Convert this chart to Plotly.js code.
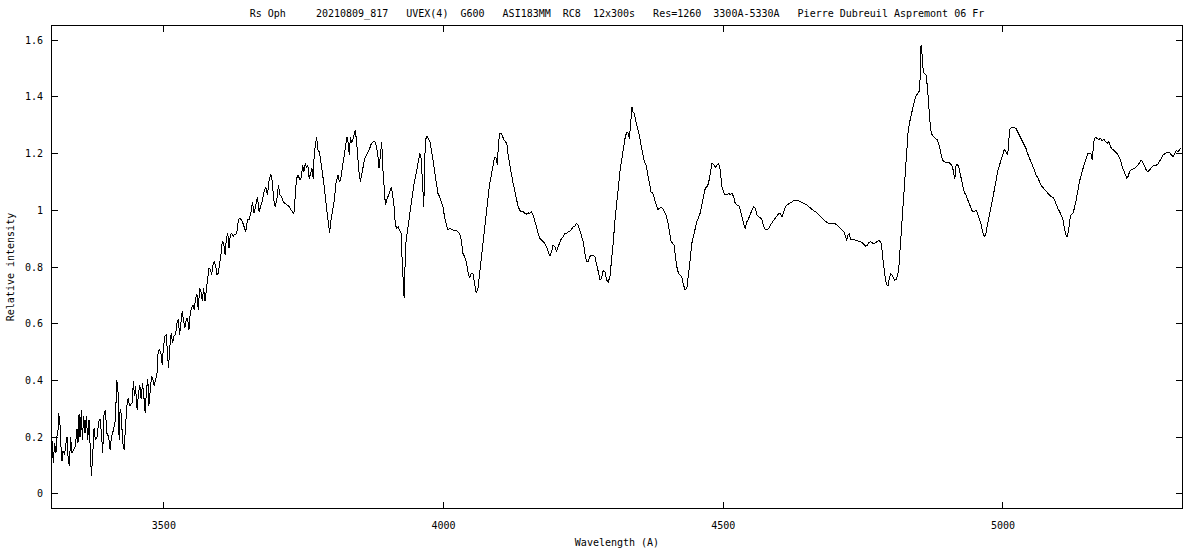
<!DOCTYPE html>
<html>
<head>
<meta charset="utf-8">
<script src="https://cdn.plot.ly/plotly-3.0.1.min.js"></script>
<style>html,body{margin:0;padding:0;background:#fff;}#chart{width:1200px;height:550px;}
#chart .scatterlayer path.js-line{shape-rendering:crispEdges;}</style>
</head>
<body>
<div id="chart"></div>
<script>
// ---- Chart text ----
const chartTitle = "Rs Oph     20210809_817   UVEX(4)  G600   ASI183MM  RC8  12x300s   Res=1260  3300A-5330A   Pierre Dubreuil Aspremont 06 Fr";
const xTitle = "Wavelength (A)";
const yTitle = "Relative intensity";
const xTickValues = [3500, 4000, 4500, 5000];
const yTickValues = [0, 0.2, 0.4, 0.6, 0.8, 1, 1.2, 1.4, 1.6];

// ---- Spectrum: wavelength (Angstrom) and relative intensity ----
const wavelength = [
3300.0,3302.3,3304.7,3307.1,3308.9,3310.6,3311.8,3314.2,3316.0,3317.8,3319.6,3322.6,3325.0,3326.8,3328.6,3331.0,3333.3,3335.7,3338.7,3341.7,
3344.7,3346.5,3348.3,3350.1,3352.5,3354.2,3356.6,3359.0,3361.4,3363.8,3366.2,3368.6,3370.4,3372.8,3375.2,3377.5,3380.5,3383.5,3385.9,3388.3,
3390.7,3393.1,3395.5,3397.8,3401.4,3403.8,3406.2,3408.6,3411.0,3413.4,3415.8,3418.2,3420.0,3421.7,3423.5,3426.5,3428.9,3431.3,3433.7,3436.1,
3438.5,3440.9,3443.2,3445.6,3447.4,3449.2,3452.2,3454.6,3457.0,3459.4,3461.8,3464.2,3466.5,3468.9,3471.3,3473.1,3475.5,3477.9,3480.3,3482.7,
3485.1,3487.4,3489.8,3492.2,3494.6,3497.0,3499.4,3501.8,3504.2,3506.6,3508.3,3510.7,3513.1,3515.5,3517.9,3520.9,3523.3,3525.7,3528.1,3530.4,
3532.8,3535.2,3537.6,3540.0,3542.4,3544.8,3547.2,3549.6,3552.0,3554.3,3556.7,3559.1,3561.5,3563.9,3566.3,3568.7,3571.1,3573.5,3575.8,3578.2,
3580.6,3583.0,3585.4,3587.8,3590.2,3592.6,3595.0,3597.4,3599.7,3602.1,3604.5,3606.9,3609.3,3611.7,3614.1,3616.5,3618.9,3621.2,3623.6,3626.0,
3628.4,3630.8,3633.2,
3636.4,3640.4,3646.3,3649.3,3652.3,3655.3,3658.3,3661.3,3664.3,3667.3,3670.2,3673.2,3676.2,3679.2,3682.2,3685.2,3688.2,3691.1,3694.1,3695.9,
3698.9,3701.9,3704.9,3707.3,3710.3,3713.2,3716.8,3721.0,3724.0,3727.0,3730.0,3732.4,3734.7,3737.1,3740.1,3743.1,3746.1,3747.9,3750.3,3752.7,
3755.1,3757.4,3759.8,3762.2,3764.6,3767.0,3768.2,3770.6,3773.0,3775.4,3777.8,3780.7,3783.7,3786.7,3789.1,3791.5,3793.9,3796.3,3798.7,3801.6,
3804.6,3807.6,3809.4,3811.2,3813.6,3816.0,3818.4,3820.8,3823.1,3825.5,3827.3,3829.1,3831.5,3833.3,3835.7,3838.1,3839.9,3842.3,3844.7,3846.4,
3848.8,3851.2,3853.6,3856.0,3859.0,3862.0,3865.0,3867.9,3870.9,3873.9,3876.9,3879.3,3882.3,3884.7,3887.1,3889.4,3891.2,3893.6,3896.0,3898.4,
3901.4,3904.4,3906.8,3909.2,3911.5,3913.9,3916.3,3918.7,3921.7,3924.1,3925.9,3927.7,3929.5,3930.7,3932.5,3934.8,3937.8,3940.8,3943.8,3946.8,
3949.8,3952.8,3955.1,3957.5,3959.9,3961.7,3963.5,3964.7,3965.9,3967.7,3970.1,3972.5,3975.5,3978.4,3980.8,3983.8,3986.8,3989.8,3992.8,3995.8,
3998.8,4001.7,4004.7,4007.7,
4010.7,4016.7,4022.6,4028.6,4031.6,4034.6,4037.6,4040.6,4043.6,4046.5,4049.5,4052.5,4055.5,4058.5,4061.5,4064.5,4067.4,4070.4,4073.4,4076.4,
4079.4,4082.4,4085.4,4088.3,4091.3,4094.3,4096.1,4097.9,4100.3,4102.7,4105.1,4108.1,4111.0,4113.4,4115.8,4118.2,4121.2,4124.2,4127.2,4130.2,
4133.1,4136.1,4139.1,4142.1,4145.1,4148.1,4151.1,4154.0,4157.0,4160.0,4163.0,4166.0,4169.0,4172.0,4175.0,4177.9,4180.9,4183.9,4186.9,4189.9,
4192.9,4195.9,4198.8,4201.8,4204.8,4207.8,4210.8,4213.8,4216.8,4219.8,4222.7,4225.7,4228.7,4231.7,4234.7,4237.7,4240.7,4243.6,4246.6,4249.6,
4252.6,4255.6,4258.6,4261.6,4264.6,4267.5,4270.5,4273.5,4276.5,4279.5,4282.5,4285.5,4288.4,4291.4,4294.4,4297.4,4300.4,4303.4,4306.4,4309.4,
4312.3,4315.3,4318.3,4321.3,4324.3,4327.3,4330.3,4332.1,4333.2,4335.0,4336.8,4338.6,4341.0,4344.0,4347.0,4350.0,4353.0,4355.9,4358.9,4361.9,
4364.9,4367.9,4370.9,4373.9,4376.8,4379.8,4382.8,4385.8,4388.8,4391.8,4394.8,4397.8,4400.7,4403.7,4406.7,4409.7,4412.1,4414.5,4416.9,4419.9,
4422.8,4425.8,4428.8,4431.8,4434.8,4437.8,4440.8,4443.7,4446.7,4449.7,4452.7,
4458.7,4464.7,4467.7,4470.6,4473.6,4476.6,4479.6,4482.6,4485.6,4488.6,4491.6,4494.5,4497.5,4500.5,4503.5,4506.5,4509.5,4512.5,4515.4,4518.4,
4521.4,4524.4,4527.4,4530.4,4533.4,4536.3,4539.3,4542.3,4545.3,4548.3,4551.3,4554.3,4557.3,4560.2,4563.2,4566.2,4569.2,4572.2,4575.2,4578.2,
4581.1,4584.1,4587.1,4590.1,4593.1,4596.1,4599.1,4602.1,4605.0,4608.0,4611.0,4614.0,4617.0,4620.0,4623.0,4625.9,4628.9,4631.9,4634.9,4637.9,
4640.9,4643.9,4646.8,4649.8,4652.8,4655.8,4658.8,4661.8,4664.8,4667.8,4670.7,4673.7,4676.7,4679.7,4682.7,4685.7,4688.7,4691.6,4694.6,4697.6,
4700.6,4703.6,4706.6,4709.6,4712.5,4715.5,4718.5,4720.3,4722.7,4725.1,4727.5,4730.5,4733.5,4736.4,4739.4,4742.4,4745.4,4748.4,4751.4,4754.4,
4757.4,4760.3,4763.3,4766.3,4769.3,4772.3,4775.3,4778.3,4781.2,4783.0,4784.8,4787.2,4789.6,4792.0,4794.4,4796.8,4799.2,4801.5,4803.9,4806.3,
4808.7,4811.1,4813.5,4815.9,4818.3,4820.7,4823.1,4825.4,4827.8,4830.2,4832.6,4835.0,4837.4,4839.8,4842.2,4844.6,4846.9,4849.3,4851.1,4852.3,
4853.5,4854.7,4855.9,4857.7,4860.1,4862.5,4864.9,4867.3,4869.7,4872.0,4874.4,4876.8,4879.8,4882.8,4885.8,
4888.8,4891.8,4894.8,4897.8,4900.7,4903.7,4906.7,4909.7,4912.1,4913.9,4915.7,4918.1,4920.5,4922.8,4925.2,4927.6,4930.6,4933.6,4936.6,4939.6,
4942.6,4945.5,4948.5,4951.5,4954.5,4957.5,4960.5,4963.5,4966.4,4968.8,4971.2,4973.6,4976.0,4978.4,4981.4,4984.4,4987.4,4990.3,4993.3,4996.3,
4999.3,5002.3,5005.3,5008.3,5010.1,5011.8,5014.2,5017.2,5020.2,5023.2,5026.2,5029.2,5032.2,5035.1,5038.1,5041.1,5044.1,5047.1,5050.1,5053.1,
5056.0,5059.0,5062.0,5065.0,5068.0,5071.0,5074.0,5076.9,5079.9,5082.9,5085.9,5088.9,5091.9,5094.9,5097.9,5100.8,5103.8,5106.8,5109.8,5112.2,
5114.6,5117.0,5119.4,5121.7,5124.7,5127.7,5130.7,5133.7,5136.7,5139.7,5142.6,5145.6,5148.6,5151.6,5154.6,5157.6,5159.4,5161.2,5163.0,5165.3,
5168.3,5171.3,5174.3,5177.3,5180.3,5183.3,5186.3,5189.2,5192.2,5195.2,5198.2,5201.2,5204.2,5207.2,5210.1,5213.1,5216.1,5219.1,5221.5,5223.9,
5226.3,5229.3,5232.2,5235.2,5238.2,5241.2,5244.2,5247.2,5250.2,5253.1,5256.1,5259.1,5262.1,5265.1,5268.1,5271.1,5274.1,5277.0,5280.0,5283.0,
5286.0,5289.0,5292.0,5295.0,5297.9,5300.9,5303.9,5306.9,5309.9,5312.9,5315.9,5318.9
];

const intensity = [
0.186,0.109,0.180,0.145,0.203,0.215,0.285,0.250,0.168,0.115,0.150,0.139,0.180,0.200,0.133,0.098,0.200,0.145,0.156,0.168,
0.227,0.180,0.280,0.200,0.297,0.190,0.274,0.215,0.274,0.190,0.262,0.145,0.062,0.139,0.233,0.190,0.200,0.256,0.262,0.215,
0.145,0.285,0.297,0.215,0.200,0.156,0.200,0.215,0.239,0.262,0.403,0.356,0.190,0.297,0.285,0.180,0.156,0.262,0.309,0.338,
0.309,0.315,0.321,0.397,0.344,0.380,0.297,0.356,0.385,0.333,0.391,0.344,0.285,0.368,0.403,0.309,0.380,0.415,0.403,0.380,
0.403,0.415,0.503,0.509,0.497,0.456,0.521,0.556,0.562,0.497,0.444,0.521,0.568,0.532,0.556,0.562,0.603,0.615,0.562,0.603,
0.644,0.609,0.585,0.615,0.620,0.579,0.638,0.656,0.667,0.650,0.691,0.703,0.650,0.726,0.714,0.679,0.726,0.679,0.720,0.761,
0.797,0.791,0.773,0.808,0.820,0.803,0.773,0.779,0.808,0.844,0.891,0.885,0.844,0.897,0.920,0.867,0.914,0.920,0.908,0.914,
0.914,0.926,0.967,
0.972,0.960,0.925,0.966,0.966,0.989,1.030,0.989,1.018,1.048,0.995,1.013,1.036,1.066,1.083,1.054,1.107,1.128,1.101,1.042,
1.013,1.036,1.089,1.054,1.048,1.030,1.024,1.018,1.013,1.001,0.995,0.989,1.048,1.112,1.124,1.107,1.118,1.159,1.136,1.165,
1.148,1.159,1.112,1.136,1.148,1.112,1.177,1.230,1.257,1.212,1.206,1.171,1.130,1.083,1.036,0.989,0.942,0.919,0.966,1.001,
1.036,1.095,1.112,1.124,1.101,1.107,1.142,1.177,1.212,1.242,1.259,1.242,1.195,1.259,1.236,1.253,1.271,1.283,1.236,1.189,
1.136,1.101,1.124,1.159,1.183,1.195,1.206,1.218,1.236,1.242,1.242,1.230,1.200,1.148,1.195,1.242,1.154,1.083,1.018,1.036,
1.054,1.071,1.083,1.048,1.013,0.948,0.936,0.942,0.930,0.919,0.825,0.737,0.690,0.778,0.883,0.919,0.966,1.013,1.048,1.089,
1.118,1.154,1.183,1.200,1.183,1.107,1.048,1.013,1.154,1.248,1.262,1.253,1.242,1.212,1.177,1.130,1.095,1.060,1.048,1.030,
1.013,0.977,0.948,0.930,
0.936,0.930,0.930,0.919,0.895,0.848,0.836,0.819,0.784,0.760,0.778,0.778,0.742,0.707,0.725,0.778,0.836,0.895,0.954,1.007,
1.060,1.095,1.124,1.159,1.189,1.183,1.159,1.230,1.271,1.273,1.259,1.248,1.242,1.230,1.189,1.159,1.124,1.095,1.071,1.042,
1.013,1.001,0.995,0.995,0.989,0.987,0.991,0.989,0.995,0.983,0.966,0.942,0.919,0.901,0.895,0.889,0.883,0.872,0.854,0.839,
0.854,0.878,0.872,0.854,0.872,0.889,0.901,0.907,0.919,0.919,0.925,0.925,0.936,0.942,0.944,0.954,0.948,0.930,0.907,0.889,
0.848,0.819,0.819,0.836,0.842,0.842,0.836,0.813,0.784,0.754,0.760,0.789,0.784,0.754,0.748,0.766,0.819,0.889,0.966,1.030,
1.083,1.136,1.177,1.218,1.253,1.277,1.271,1.253,1.277,1.336,1.363,1.347,1.342,1.312,1.289,1.265,1.230,1.195,1.171,1.159,
1.130,1.089,1.065,1.060,1.042,1.018,1.003,1.007,1.010,1.007,0.995,0.983,0.960,0.930,0.889,0.883,0.878,0.836,0.801,0.778,
0.772,0.766,0.737,0.719,0.725,0.766,0.825,0.883,0.907,0.930,0.960,
0.990,1.048,1.077,1.083,1.095,1.130,1.165,1.163,1.151,1.159,1.165,1.142,1.083,1.065,1.054,1.054,1.060,1.054,1.060,1.048,
1.024,1.018,1.018,1.001,0.971,0.954,0.936,0.960,0.971,0.989,1.001,1.013,1.007,0.983,0.977,0.975,0.966,0.942,0.933,0.930,
0.936,0.948,0.956,0.966,0.975,0.983,0.989,0.989,0.977,0.995,1.013,1.018,1.024,1.027,1.030,1.034,1.034,1.034,1.033,1.030,
1.027,1.024,1.022,1.018,1.013,1.007,1.003,0.998,0.995,0.989,0.986,0.980,0.971,0.966,0.960,0.956,0.954,0.954,0.954,0.954,
0.952,0.948,0.942,0.936,0.933,0.925,0.909,0.893,0.913,0.916,0.897,0.895,0.897,0.895,0.895,0.891,0.889,0.886,0.881,0.874,
0.877,0.886,0.889,0.886,0.881,0.886,0.889,0.893,0.889,0.877,0.836,0.789,0.760,0.737,0.733,0.760,0.775,0.772,0.760,0.754,
0.756,0.766,0.789,0.860,0.930,1.013,1.095,1.165,1.224,1.271,1.306,1.330,1.353,1.377,1.391,1.403,1.412,1.418,1.421,1.494,
1.582,1.576,1.523,1.488,1.482,1.476,1.435,1.365,1.306,1.271,1.262,1.257,1.253,1.248,1.230,
1.205,1.177,1.171,1.169,1.168,1.168,1.163,1.154,1.130,1.109,1.154,1.162,1.156,1.136,1.112,1.089,1.065,1.054,1.038,1.022,
1.007,0.995,0.995,1.001,0.989,0.971,0.954,0.925,0.907,0.913,0.936,0.966,0.989,1.013,1.036,1.071,1.101,1.136,1.159,1.177,
1.195,1.215,1.206,1.195,1.236,1.283,1.291,1.292,1.291,1.289,1.277,1.265,1.253,1.242,1.230,1.218,1.200,1.183,1.165,1.156,
1.142,1.124,1.116,1.101,1.089,1.081,1.074,1.065,1.057,1.054,1.048,1.046,1.038,1.018,1.007,0.997,0.983,0.971,0.936,0.913,
0.907,0.925,0.966,0.983,0.989,1.007,1.036,1.071,1.101,1.124,1.148,1.165,1.183,1.200,1.200,1.198,1.177,1.230,1.250,1.257,
1.253,1.250,1.253,1.245,1.250,1.242,1.236,1.242,1.224,1.215,1.212,1.206,1.200,1.189,1.177,1.154,1.136,1.121,1.112,1.121,
1.136,1.142,1.144,1.148,1.154,1.159,1.168,1.177,1.168,1.154,1.142,1.136,1.144,1.148,1.156,1.159,1.159,1.163,1.171,1.183,
1.195,1.200,1.203,1.206,1.203,1.195,1.189,1.198,1.212,1.206,1.215,1.218
];

const xRange = [3300, 5320];
const yRange = [-0.05, 1.65];

const FONT = "'DejaVu Sans Mono', 'Liberation Mono', monospace";
const nb = s => s.replace(/ /g, "\u00a0");

const trace = {
  x: wavelength,
  y: intensity,
  type: "scatter",
  mode: "lines",
  line: {color: "#000000", width: 1},
  hoverinfo: "x+y"
};

const axisCommon = {
  showgrid: false,
  zeroline: false,
  showline: true,
  linecolor: "#000000",
  linewidth: 1,
  mirror: "ticks",
  ticks: "inside",
  ticklen: 6,
  tickwidth: 1,
  tickcolor: "#000000",
  tickfont: {family: FONT, size: 10, color: "#000000"},
  automargin: false
};

const layout = {
  width: 1200,
  height: 550,
  margin: {l: 52, r: 18, t: 26, b: 42, pad: 0},
  paper_bgcolor: "#ffffff",
  plot_bgcolor: "#ffffff",
  font: {family: FONT, size: 10, color: "#000000"},
  showlegend: false,
  title: {
    text: nb(chartTitle),
    font: {family: FONT, size: 10, color: "#000000"},
    x: 0.5, xref: "paper", xanchor: "center",
    y: 1 - 13 / 550, yref: "container", yanchor: "middle"
  },
  xaxis: Object.assign({}, axisCommon, {
    range: xRange,
    tickmode: "array",
    tickvals: xTickValues,
    ticktext: xTickValues.map(String),
    ticklabelstandoff: 8,
    title: {text: nb(xTitle), font: {family: FONT, size: 10, color: "#000000"}, standoff: 8}
  }),
  yaxis: Object.assign({}, axisCommon, {
    range: yRange,
    tickmode: "array",
    tickvals: yTickValues,
    ticktext: yTickValues.map(String),
    ticklabelstandoff: 6,
    title: {text: nb(yTitle), font: {family: FONT, size: 10, color: "#000000"}, standoff: 8}
  })
};

Plotly.newPlot("chart", [trace], layout, {displayModeBar: false, staticPlot: true});
</script>
</body>
</html>
